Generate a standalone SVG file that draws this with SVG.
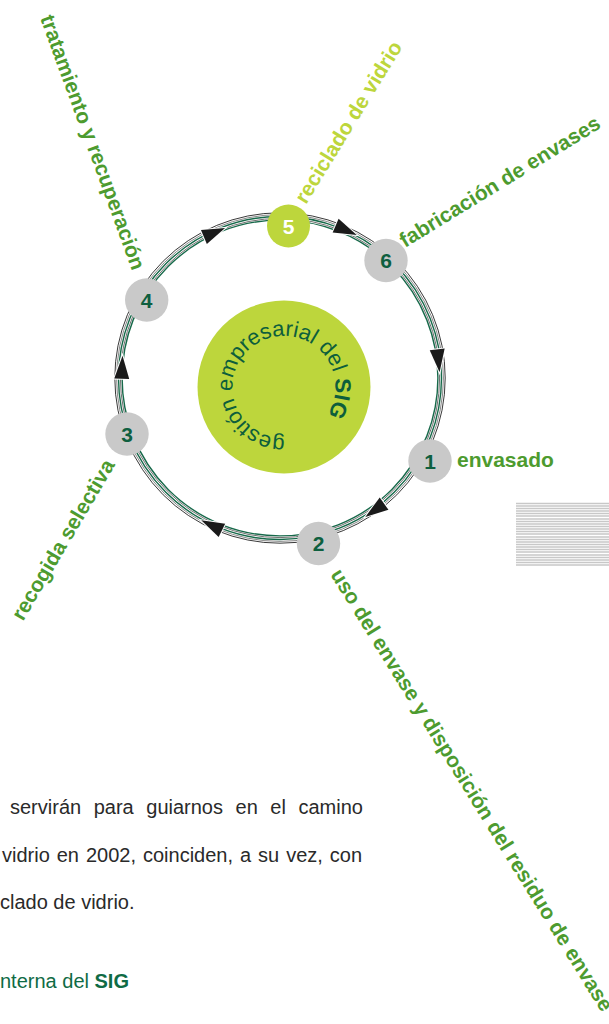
<svg xmlns="http://www.w3.org/2000/svg" xmlns:xlink="http://www.w3.org/1999/xlink" width="609" height="1024" viewBox="0 0 609 1024">
<style>
.lbl{font-family:"Liberation Sans",Arial,sans-serif;font-weight:bold;font-size:21px;fill:#4d9b2f}
.lime{fill:#bdd63c}
.num{font-family:"Liberation Sans",Arial,sans-serif;font-weight:bold;font-size:21px;fill:#0e5f3f;text-anchor:middle}
.node{fill:#c9c9c9}
.body{font-family:"Liberation Sans",Arial,sans-serif;font-size:20px;fill:#2a2a2a}
.ring{fill:none}
.arr{fill:#1a1a1a;stroke:#fff;stroke-width:2;paint-order:stroke}
</style>
<defs>
<path id="tri" d="M15.3,0 L-7.7,-7.5 L-7.7,7.5 Z"/>
<path id="tp" d="M284.89,437.99 A51,51 0 1,1 283.11,336.01 A51,51 0 1,1 284.89,437.99"/>
</defs>
<rect width="609" height="1024" fill="#fff"/>

<g id="stripes" stroke="#c8c8c8" stroke-width="1.3">
<path d="M516,503.5H609M516,506H609M516,508.5H609M516,511H609M516,513.5H609M516,516H609M516,519H609M516,521.5H609M516,524H609M516,526.5H609M516,529H609M516,531.5H609M516,534H609M516,537H609M516,539.5H609M516,542H609M516,544.5H609M516,547H609M516,549.5H609M516,552H609M516,555H609M516,557.5H609M516,560H609M516,562.5H609M516,565H609"/>
</g>

<g id="connectors">
<g class="ring">
<circle cx="280" cy="378" r="165.2" stroke="#3a3a3a" stroke-width="1"/>
<circle cx="280" cy="378" r="163.4" stroke="#7a7a7a" stroke-width="0.9"/>
<circle cx="280" cy="378" r="161.5" stroke="#17694a" stroke-width="1.4"/>
<circle cx="280" cy="378" r="159.6" stroke="#4a4a4a" stroke-width="0.8"/>
<circle cx="280" cy="378" r="157.9" stroke="#17694a" stroke-width="1.4"/>
</g>
<use href="#tri" class="arr" transform="translate(122,371) rotate(-88)"/>
<use href="#tri" class="arr" transform="translate(211,234) rotate(-23)"/>
<use href="#tri" class="arr" transform="translate(342.7,228.8) rotate(23.5)"/>
<use href="#tri" class="arr" transform="translate(438,357) rotate(84)"/>
<use href="#tri" class="arr" transform="translate(377.8,508) rotate(144.5)"/>
<use href="#tri" class="arr" transform="translate(215,527) rotate(206)"/>
</g>

<g id="center">
<circle cx="284" cy="387" r="86.5" fill="#bdd63c"/>
<text font-family="Liberation Sans,Arial,sans-serif" font-size="22" fill="#0d5e3c"><textPath href="#tp">gestión empresarial del <tspan font-weight="bold">SIG</tspan></textPath></text>
</g>

<g id="node1"><circle class="node" cx="430" cy="461" r="21.7"/><text class="num" x="430" y="468.5">1</text></g>
<g id="node2"><circle class="node" cx="318.5" cy="543.5" r="21.7"/><text class="num" x="318.5" y="551">2</text></g>
<g id="node3"><circle class="node" cx="127" cy="434" r="21.7"/><text class="num" x="127" y="441.5">3</text></g>
<g id="node4"><circle class="node" cx="146.7" cy="300" r="21.7"/><text class="num" x="146.7" y="307.5">4</text></g>
<g id="node5"><circle cx="288.5" cy="226" r="21.5" fill="#bdd63c"/><text class="num" x="288.5" y="233.5" style="fill:#fff">5</text></g>
<g id="node6"><circle class="node" cx="386" cy="260.5" r="21.7"/><text class="num" x="386" y="268">6</text></g>

<g id="labels">
<text class="lbl" x="457" y="467">envasado</text>
<text class="lbl" transform="translate(330,574.5) rotate(58.2)">uso del envase y disposición del residuo de envase</text>
<text class="lbl" transform="translate(23,621.7) rotate(-59.5)">recogida selectiva</text>
<text class="lbl" transform="translate(40,18) rotate(70)">tratamiento y recuperación</text>
<text class="lbl lime" transform="translate(306,205) rotate(-58.5)">reciclado de vidrio</text>
<text class="lbl" transform="translate(405,248) rotate(-31.5)">fabricación de envases</text>
</g>

<g id="bodytext">
<text class="body" x="10" y="814" word-spacing="7">servirán para guiarnos en el camino</text>
<text class="body" x="2" y="862" word-spacing="1.4">vidrio en 2002, coinciden, a su vez, con</text>
<text class="body" x="0" y="909">clado de vidrio.</text>
<text class="body" x="0" y="987.5" style="fill:#0f6b45">nterna del <tspan font-weight="bold">SIG</tspan></text>
</g>
</svg>
